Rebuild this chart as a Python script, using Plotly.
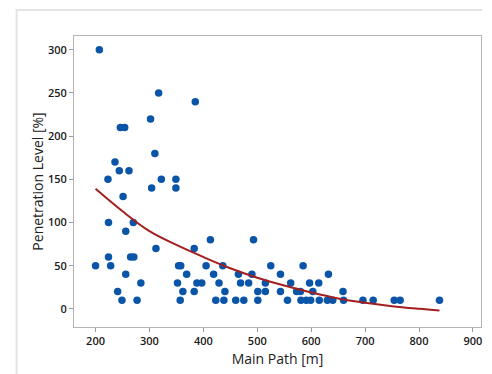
import plotly.graph_objects as go

# Main path length [m] and penetration level [%] per observation
main_path = [
    200, 207, 223, 224, 224, 228, 236, 241, 244, 246, 249, 251, 254, 256, 256,
    262, 265, 270, 271, 277, 284, 302, 304, 310, 312, 317, 322, 349, 349, 352,
    354, 358, 357, 362, 369, 383, 383, 385, 388, 397, 405, 413, 419, 423, 429,
    436, 438, 440, 460, 465, 469, 475, 484, 490, 493, 501, 501, 515, 515, 525,
    543, 543, 556, 562, 573, 580, 581, 585, 591, 597, 599, 603, 614, 615, 630,
    632, 640, 659, 660, 696, 715, 754, 765, 838,
]
penetration = [
    50, 300, 150, 100, 60, 50, 170, 20, 160, 210, 10, 130, 210, 90, 40,
    160, 60, 100, 60, 10, 30, 220, 140, 180, 70, 250, 150, 150, 140, 30,
    50, 50, 10, 20, 40, 70, 20, 240, 30, 30, 50, 80, 40, 10, 30,
    50, 10, 20, 10, 40, 30, 10, 30, 40, 80, 20, 10, 30, 20, 50,
    40, 20, 10, 30, 20, 20, 10, 50, 10, 30, 10, 20, 30, 10, 10,
    40, 10, 20, 10, 10, 10, 10, 10, 10,
]

# Fitted trend line
fit_x = [200, 250, 300, 350, 400, 450, 500, 550, 600, 650, 700, 750, 800, 838]
fit_y = [139, 113, 90, 74, 60, 47, 36, 27, 19, 12, 7, 3, 0, -2]

x_ticks = [200, 300, 400, 500, 600, 700, 800, 900]
y_ticks = [0, 50, 100, 150, 200, 250, 300]

fig = go.Figure()
fig.add_trace(go.Scatter(
    x=main_path, y=penetration, mode="markers",
    marker=dict(color="#0a55a8", size=7.5, line=dict(width=0)),
    showlegend=False,
))
fig.add_trace(go.Scatter(
    x=fit_x, y=fit_y, mode="lines",
    line=dict(color="#a31f1f", width=2, shape="spline", smoothing=1.0),
    showlegend=False,
))

axis_common = dict(
    showgrid=False, zeroline=False,
    showline=True, linecolor="#b4b4b4", linewidth=1, mirror=True,
    ticks="outside", ticklen=4, tickcolor="#9a9a9a", tickwidth=1,
    tickfont=dict(family="Open Sans", size=11, color="#1a1a1a", weight=600),
)

fig.update_layout(
    width=492, height=374,
    margin=dict(l=74, r=10, t=36, b=45),
    paper_bgcolor="white", plot_bgcolor="white",
    font=dict(family="Open Sans", color="#222222"),
    xaxis=dict(
        range=[160, 915], tickvals=x_ticks,
        title=dict(text="Main Path [m]", font=dict(size=14, color="#222222"), standoff=6),
        **axis_common,
    ),
    yaxis=dict(
        range=[-21, 316], tickvals=y_ticks,
        title=dict(text="Penetration Level [%]", font=dict(size=14, color="#222222"), standoff=1),
        **axis_common,
    ),
    shapes=[
        dict(
            type="path", xref="paper", yref="paper",
            path="M -0.141,-0.2 L -0.141,1.089 L 1.003,1.089",
            line=dict(color="#e4e4e4", width=2),
        )
    ],
)

fig.write_html("out.html")
